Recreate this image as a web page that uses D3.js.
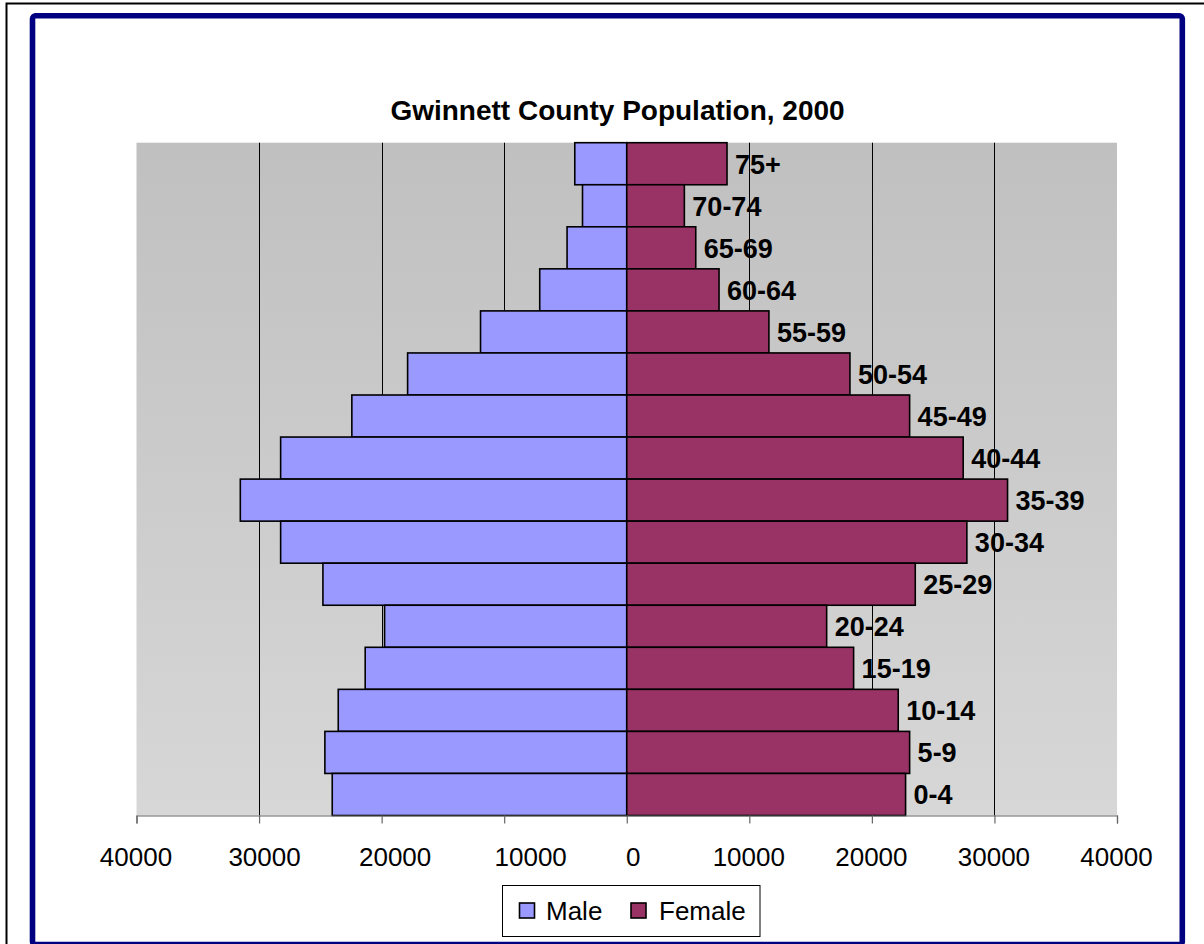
<!DOCTYPE html>
<html>
<head>
<meta charset="utf-8">
<script src="https://cdn.jsdelivr.net/npm/d3@7"></script>
<style>
  html, body { margin: 0; padding: 0; background: #ffffff; }
  svg { display: block; font-family: "Liberation Sans", Arial, sans-serif; }
</style>
</head>
<body>
<svg id="chart" width="1204" height="944"></svg>
<script>
// Age groups, listed top to bottom
const ageGroups = ["75+", "70-74", "65-69", "60-64", "55-59", "50-54", "45-49", "40-44",
                   "35-39", "30-34", "25-29", "20-24", "15-19", "10-14", "5-9", "0-4"];
// Population by sex for each age group
const malePop   = [4240, 3610, 4870, 7100, 11930, 17880, 22430, 28240,
                   31530, 28240, 24790, 19760, 21340, 23540, 24630, 24030];
const femalePop = [8180, 4700, 5630, 7530, 11600, 18210, 23080, 27450,
                   31070, 27750, 23540, 16310, 18510, 22150, 23080, 22750];
// Axis ticks (signed: males on the left)
const tickValues = [-40000, -30000, -20000, -10000, 0, 10000, 20000, 30000, 40000];
const seriesNames = ["Male", "Female"];
const titleText = "Gwinnett County Population, 2000";

const maleColor = "#9999ff";
const femaleColor = "#993366";

const svg = d3.select("#chart");

// Outer page border and navy chart frame
svg.append("rect")
  .attr("x", 6.5).attr("y", 3.5).attr("width", 1220).attr("height", 960)
  .attr("fill", "none").attr("stroke", "#000").attr("stroke-width", 2);
svg.append("rect")
  .attr("x", 32.5).attr("y", 15.8).attr("width", 1149.8).attr("height", 928.7)
  .attr("rx", 3).attr("ry", 3)
  .attr("fill", "#fff").attr("stroke", "#000080").attr("stroke-width", 5.6);

const plot = { left: 136.5, right: 1117, top: 142.7, bottom: 815.5 };

const x = d3.scaleLinear().domain([-40000, 40000]).range([plot.left, plot.right]);
const y = d3.scaleBand().domain(ageGroups).range([plot.top, plot.bottom]).padding(0);

// Plot area background with soft vertical gradient
const defs = svg.append("defs");
const grad = defs.append("linearGradient").attr("id", "plotBg")
  .attr("x1", 0).attr("y1", 0).attr("x2", 0).attr("y2", 1);
grad.append("stop").attr("offset", "0%").attr("stop-color", "#c0c0c0");
grad.append("stop").attr("offset", "100%").attr("stop-color", "#d7d7d7");

svg.append("rect")
  .attr("x", plot.left).attr("y", plot.top)
  .attr("width", plot.right - plot.left).attr("height", plot.bottom - plot.top)
  .attr("fill", "url(#plotBg)");

// Vertical gridlines
svg.append("g").selectAll("line")
  .data(tickValues.filter(v => v !== -40000 && v !== 40000))
  .join("line")
  .attr("x1", d => Math.round(x(d)) + 0.5).attr("x2", d => Math.round(x(d)) + 0.5)
  .attr("y1", plot.top).attr("y2", plot.bottom)
  .attr("stroke", "#000").attr("stroke-width", 1);

// Bars
const rows = ageGroups.map((g, i) => ({ group: g, male: malePop[i], female: femalePop[i] }));

svg.append("g").selectAll("rect")
  .data(rows)
  .join("rect")
  .attr("x", d => x(-d.male)).attr("y", d => y(d.group))
  .attr("width", d => x(0) - x(-d.male)).attr("height", y.bandwidth())
  .attr("fill", maleColor).attr("stroke", "#000").attr("stroke-width", 1.6);

svg.append("g").selectAll("rect")
  .data(rows)
  .join("rect")
  .attr("x", x(0)).attr("y", d => y(d.group))
  .attr("width", d => x(d.female) - x(0)).attr("height", y.bandwidth())
  .attr("fill", femaleColor).attr("stroke", "#000").attr("stroke-width", 1.6);

// Age group labels at the end of each female bar
svg.append("g").selectAll("text")
  .data(rows)
  .join("text")
  .attr("x", d => x(d.female) + 8)
  .attr("y", d => y(d.group) + y.bandwidth() / 2 + 9.8)
  .attr("font-size", 27).attr("font-weight", "bold").attr("fill", "#000")
  .text(d => d.group);

// Bottom axis
const axis = d3.axisBottom(x).tickValues(tickValues).tickSize(8).tickFormat(d => Math.abs(d));
const axisG = svg.append("g").attr("transform", `translate(0,${plot.bottom})`).call(axis);
axisG.select(".domain").attr("stroke", "#666").attr("stroke-width", 1.2);
axisG.selectAll(".tick line").attr("stroke", "#666").attr("stroke-width", 1.2);
// Left-side labels sit a little to the right of their ticks
const labelNudge = { "-40000": 0, "-30000": 5, "-20000": 13, "-10000": 26, "0": 6 };
axisG.selectAll(".tick text")
  .attr("font-family", "\"Liberation Sans\", Arial, sans-serif")
  .attr("font-size", 26).attr("fill", "#000")
  .attr("dy", null).attr("y", 50)
  .attr("dx", d => labelNudge[String(d)] || -1);

// Title
svg.append("text")
  .attr("x", 617.5).attr("y", 120)
  .attr("text-anchor", "middle")
  .attr("font-size", 28).attr("font-weight", "bold").attr("fill", "#000")
  .text(titleText);

// Legend
const legend = svg.append("g");
legend.append("rect")
  .attr("x", 502.5).attr("y", 885.5).attr("width", 257.5).attr("height", 51)
  .attr("fill", "#fff").attr("stroke", "#000").attr("stroke-width", 1);
const legendItems = [
  { name: seriesNames[0], color: maleColor, sx: 519.5, tx: 546 },
  { name: seriesNames[1], color: femaleColor, sx: 631, tx: 659 }
];
legend.selectAll("rect.sw")
  .data(legendItems)
  .join("rect").attr("class", "sw")
  .attr("x", d => d.sx).attr("y", 903).attr("width", 15).attr("height", 15)
  .attr("fill", d => d.color).attr("stroke", "#000").attr("stroke-width", 1.6);
legend.selectAll("text")
  .data(legendItems)
  .join("text")
  .attr("x", d => d.tx).attr("y", 920)
  .attr("font-size", 26).attr("fill", "#000")
  .text(d => d.name);
</script>
</body>
</html>
